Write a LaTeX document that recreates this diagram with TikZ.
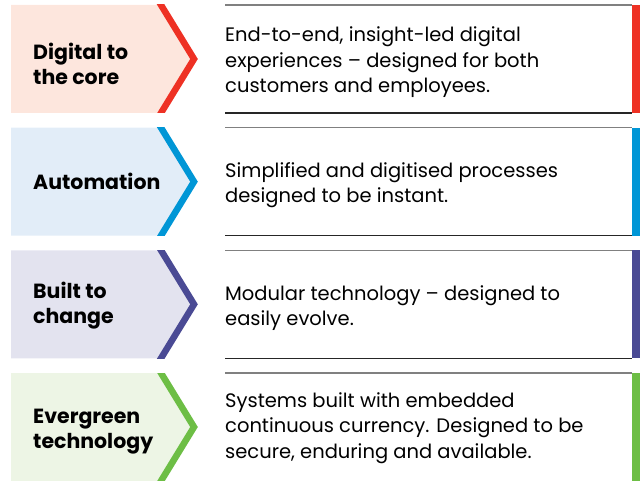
\documentclass[tikz,border=0pt]{standalone}
\usepackage{fontspec}
\setmainfont{Poppins}
\usepackage{tikz}
\usetikzlibrary{positioning}

\definecolor{dgred}{HTML}{EE3124}
\definecolor{dgredbg}{HTML}{FDE6DD}
\definecolor{aublue}{HTML}{0096D6}
\definecolor{aubluebg}{HTML}{E2EDF8}
\definecolor{btpurple}{HTML}{4A4A94}
\definecolor{btpurplebg}{HTML}{E3E3EF}
\definecolor{evgreen}{HTML}{6DBE45}
\definecolor{evgreenbg}{HTML}{EDF5E5}

\begin{document}
\begin{tikzpicture}[
    x=1pt, y=-1pt,
    label/.style={anchor=west, align=left, inner sep=0pt, font=\fontsize{20.5}{25}\selectfont\bfseries},
    desc/.style={anchor=west, align=left, inner sep=0pt, font=\fontsize{19.5}{25.5}\selectfont},
    topline/.style={draw=black!50, line width=1.4pt},
    botline/.style={draw=black!85, line width=1.3pt},
]
\useasboundingbox (0,0) rectangle (640,481);

% Digital to the core
\fill[dgredbg] (11,5) -- (161,5) -- (194,59) -- (161,113) -- (11,113) -- cycle;
\begin{scope}
  \clip (100,5) rectangle (220,113);
  \draw[dgred, line width=6.5pt, miter limit=10] (155,-5) -- (161,5) -- (194,59) -- (161,113) -- (155,123);
\end{scope}
\node[label] (lab1) at (33,64) {Digital to\\the core};
\draw[topline] (225,5) -- (632,5);
\draw[botline] (225,113) -- (632,113);
\fill[dgred] (632,5) rectangle (640,113);
\node[desc] (txt1) at (225,62.5) {End-to-end, insight-led digital\\experiences – designed for both\\customers and employees.};

% Automation
\fill[aubluebg] (11,127.7) -- (161,127.7) -- (194,181.7) -- (161,235.7) -- (11,235.7) -- cycle;
\begin{scope}
  \clip (100,127.7) rectangle (220,235.7);
  \draw[aublue, line width=6.5pt, miter limit=10] (155,117.7) -- (161,127.7) -- (194,181.7) -- (161,235.7) -- (155,245.7);
\end{scope}
\node[label] (lab2) at (33,181) {Automation};
\draw[topline] (225,127.7) -- (632,127.7);
\draw[botline] (225,235.7) -- (632,235.7);
\fill[aublue] (632,127.7) rectangle (640,235.7);
\node[desc] (txt2) at (225,185) {Simplified and digitised processes\\designed to be instant.};

% Built to change
\fill[btpurplebg] (11,250.3) -- (161,250.3) -- (194,304.3) -- (161,358.3) -- (11,358.3) -- cycle;
\begin{scope}
  \clip (100,250.3) rectangle (220,358.3);
  \draw[btpurple, line width=6.5pt, miter limit=10] (155,240.3) -- (161,250.3) -- (194,304.3) -- (161,358.3) -- (155,368.3);
\end{scope}
\node[label] (lab3) at (33,305.5) {Built to\\change};
\draw[topline] (225,250.3) -- (632,250.3);
\draw[botline] (225,358.3) -- (632,358.3);
\fill[btpurple] (632,250.3) rectangle (640,358.3);
\node[desc] (txt3) at (225,308) {Modular technology – designed to\\easily evolve.};

% Evergreen technology
\fill[evgreenbg] (11,373) -- (161,373) -- (194,427) -- (161,481) -- (11,481) -- cycle;
\begin{scope}
  \clip (100,373) rectangle (220,481);
  \draw[evgreen, line width=6.5pt, miter limit=10] (155,363) -- (161,373) -- (194,427) -- (161,481) -- (155,491);
\end{scope}
\node[label] (lab4) at (33,432) {Evergreen\\technology};
\draw[topline] (225,373) -- (632,373);
\fill[evgreen] (632,373) rectangle (640,481);
\node[desc] (txt4) at (225,428) {Systems built with embedded\\continuous currency. Designed to be\\secure, enduring and available.};
\end{tikzpicture}
\end{document}
